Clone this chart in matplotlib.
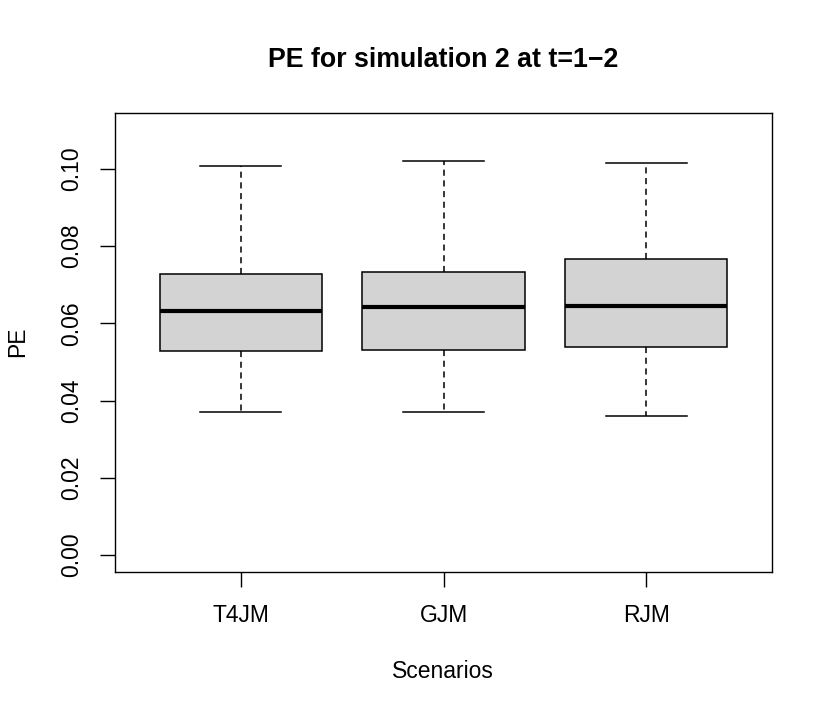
import matplotlib
matplotlib.use('Agg')
import matplotlib.pyplot as plt

plt.rcParams['font.family'] = ['Liberation Sans', 'DejaVu Sans']

# Five-number summaries
scenarios = ['T4JM', 'GJM', 'RJM']
whisker_low = [0.0370, 0.0370, 0.0361]
q1 = [0.0529, 0.0530, 0.0538]
median = [0.0633, 0.0642, 0.0646]
q3 = [0.0728, 0.0732, 0.0766]
whisker_high = [0.1008, 0.1021, 0.1016]
y_ticks = [0.00, 0.02, 0.04, 0.06, 0.08, 0.10]

stats = []
for i in range(len(scenarios)):
    stats.append({'whislo': whisker_low[i], 'q1': q1[i], 'med': median[i],
                  'q3': q3[i], 'whishi': whisker_high[i], 'fliers': []})

fig = plt.figure(figsize=(8.3, 7.14), dpi=100)
ax = fig.add_axes([115 / 830, 1 - 572 / 714, 657 / 830, 459 / 714])

ax.bxp(stats, positions=[1, 2, 3], widths=0.8, patch_artist=True,
       showfliers=False,
       boxprops=dict(facecolor='#d3d3d3', edgecolor='black', linewidth=1.1),
       medianprops=dict(color='black', linewidth=3.0, solid_capstyle='butt'),
       whiskerprops=dict(color='black', linewidth=1.1, linestyle=(0, (4, 3))),
       capprops=dict(color='black', linewidth=1.1),
       capwidths=0.4)

ax.set_xlim(0.38, 3.62)
ax.set_ylim(-0.0044, 0.1145)
ax.set_xticks([1, 2, 3])
ax.set_xticklabels(scenarios)
ax.set_yticks(y_ticks)
ax.set_yticklabels(['%.2f' % v for v in y_ticks], rotation=90, va='center')
ax.tick_params(axis='both', length=11, width=1, labelsize=16.5, pad=12)

for s in ax.spines.values():
    s.set_linewidth(1)

fig.text(443 / 830, 1 - 60 / 714, 'PE for simulation 2 at t=1\u22122',
         ha='center', va='center', fontsize=19.3, fontweight='bold')
fig.text(443 / 830, 1 - 671 / 714, 'Scenarios', ha='center', va='center', fontsize=16.5)
fig.text(18 / 830, 1 - 342 / 714, 'PE', ha='center', va='center', fontsize=16.5,
         rotation=90)

fig.savefig('out.png', dpi=100, facecolor='white')
